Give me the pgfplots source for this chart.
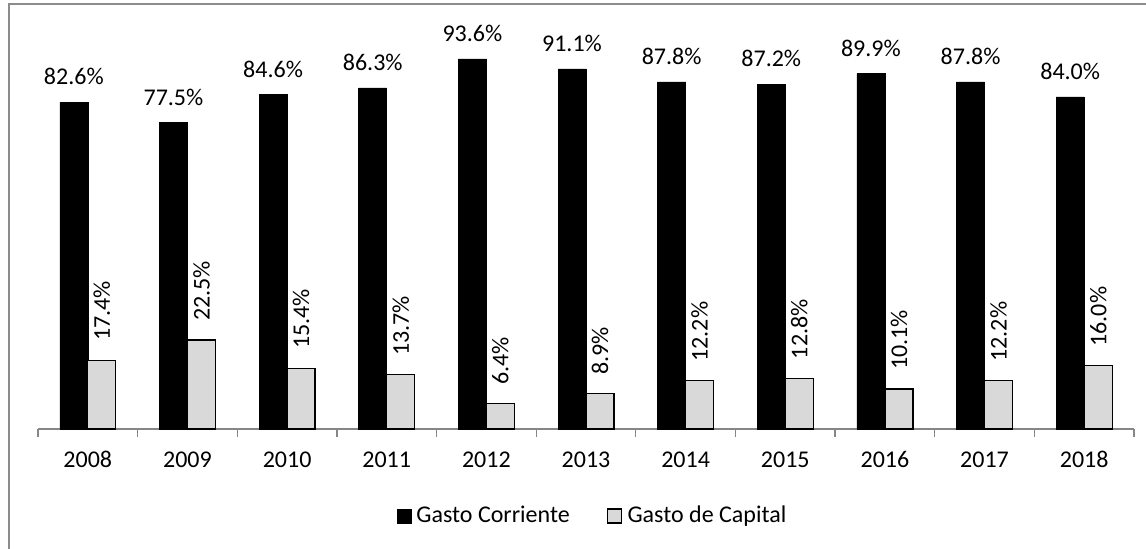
\documentclass[border=0pt]{standalone}
\usepackage{fontspec}
\setmainfont{Carlito}
\usepackage{pgfplots}
\pgfplotsset{compat=1.18}

\definecolor{framegray}{HTML}{8C8C8C}
\definecolor{axisgray}{HTML}{868686}
\definecolor{capgray}{HTML}{D9D9D9}

\begin{document}
\fontsize{18}{22}\selectfont
\begin{tikzpicture}
% page box: 1146 x 549 px at 0.75pt per px, axis origin at px (38,429)
\useasboundingbox (-28.5pt,-90pt) rectangle (831pt,321.75pt);
\draw[framegray, line width=1.5pt] (-21.75pt,-100pt) -- (-21.75pt,318.75pt) -- (840pt,318.75pt);
\begin{axis}[
  at={(0pt,0pt)}, anchor=south west,
  scale only axis,
  width=822pt, height=296.5pt,
  ybar=0pt,
  bar width=21pt,
  xmin=-0.5, xmax=10.5,
  ymin=0, ymax=100,
  clip=false,
  axis x line*=bottom,
  axis y line=none,
  axis line style={axisgray, line width=0.9pt},
  xtick={0,...,10},
  xticklabels={2008,2009,2010,2011,2012,2013,2014,2015,2016,2017,2018},
  minor xtick={-0.5,0.5,...,10.5},
  major tick length=0pt,
  minor tick length=6pt,
  tick align=outside,
  minor tick style={axisgray, line width=0.9pt},
  xticklabel style={anchor=base, inner sep=0pt, yshift=-29.25pt},
  /pgf/number format/assume math mode=true,
  legend columns=2,
  legend style={at={(0.505,-0.22)}, anchor=center, draw=none, fill=none,
    nodes={inner sep=0pt},
    /tikz/every odd column/.append style={column sep=4pt},
    /tikz/every even column/.append style={column sep=28pt},
    inner sep=0pt},
  legend cell align=left,
  legend image code/.code={\draw[#1] (0pt,-5.2pt) rectangle (10.4pt,5.2pt);},
]
\addplot[fill=black, draw=black,
  nodes near coords={\pgfmathprintnumber[fixed,fixed zerofill,precision=1]{\pgfplotspointmeta}\%},
  every node near coord/.append style={anchor=south, inner sep=0pt, yshift=12.75pt, text=black}]
  coordinates {(0,82.6) (1,77.5) (2,84.6) (3,86.3) (4,93.6) (5,91.1) (6,87.8) (7,87.2) (8,89.9) (9,87.8) (10,84.0)};
\addlegendentry{Gasto Corriente}
\addplot[fill=capgray, draw=black, line width=0.9pt,
  nodes near coords={\pgfmathprintnumber[fixed,fixed zerofill,precision=1]{\pgfplotspointmeta}\%},
  every node near coord/.append style={rotate=90, anchor=west, inner ysep=0pt, inner xsep=14pt, text=black}]
  coordinates {(0,17.4) (1,22.5) (2,15.4) (3,13.7) (4,6.4) (5,8.9) (6,12.2) (7,12.8) (8,10.1) (9,12.2) (10,16.0)};
\addlegendentry{Gasto de Capital}
\end{axis}
\end{tikzpicture}
\end{document}
